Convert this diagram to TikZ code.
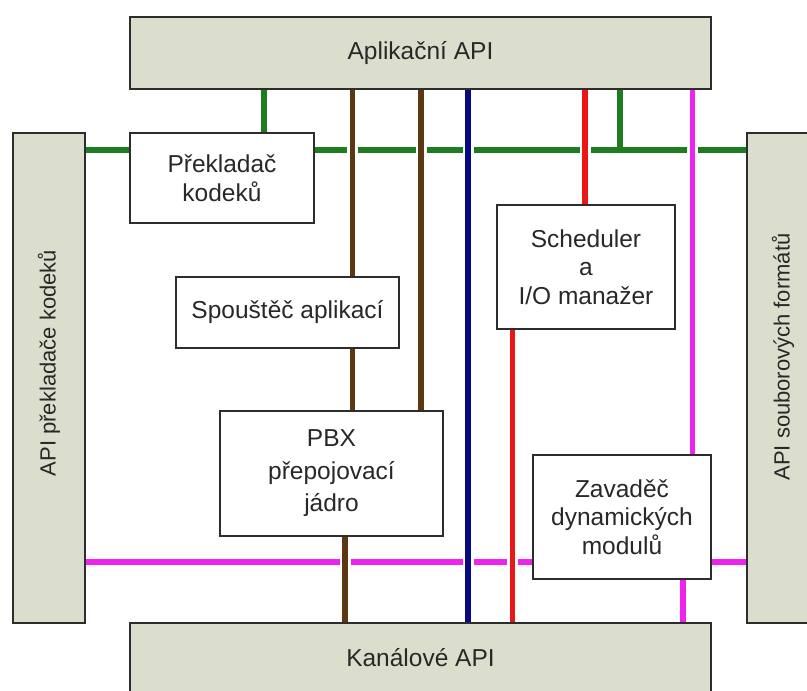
\documentclass[tikz,border=0pt]{standalone}
\usepackage{fontspec}
\setmainfont{Liberation Sans}
\definecolor{apifill}{RGB}{220,222,205}
\definecolor{bordercol}{RGB}{45,45,45}
\definecolor{textcol}{RGB}{40,40,40}
\definecolor{gcol}{RGB}{30,125,30}
\definecolor{bcol}{RGB}{92,56,18}
\definecolor{ncol}{RGB}{8,8,128}
\definecolor{rcol}{RGB}{235,22,22}
\definecolor{mcol}{RGB}{238,36,238}
\newcommand\fs{\fontsize{24.5}{28.5}\selectfont}
\newcommand\fsr{\fontsize{22}{26}\selectfont}
\tikzset{
  apibox/.style={draw=bordercol, line width=1.6pt, fill=apifill, inner sep=0pt, font=\fs, text=textcol},
  modbox/.style={draw=bordercol, line width=1.6pt, fill=white, inner sep=0pt, align=center, font=\fs, text=textcol},
  boxtext/.style={font=\fs, text=textcol, inner sep=0pt},
  rotlabel/.style={rotate=90, font=\fsr, text=textcol, inner sep=0pt},
  wire/.style={line width=5.5pt},
  hop/.style={preaction={draw=white, line width=11pt}},
}
\begin{document}
\begin{tikzpicture}[x=1pt,y=-1pt]
\useasboundingbox (0,0) rectangle (807,691);
% level and column coordinates
\coordinate (gy) at (0,150);
\coordinate (my) at (0,562);
\coordinate (xg1) at (264,0);
\coordinate (xg2) at (620,0);
\coordinate (xb1) at (352.5,0);
\coordinate (xb2) at (421,0);
\coordinate (xb3) at (345,0);
\coordinate (xn) at (468,0);
\coordinate (xr1) at (585,0);
\coordinate (xr2) at (512.5,0);
\coordinate (xm1) at (692.5,0);
\coordinate (xm2) at (683,0);

% node placement (drawn later on top of wires)
\path
  node[apibox, minimum width=581pt, minimum height=72pt] (app) at (420.5,53) {}
  node[apibox, minimum width=581pt, minimum height=100pt] (kan) at (420.5,673) {}
  node[apibox, minimum width=72pt, minimum height=490pt] (lapi) at (49,378) {}
  node[apibox, minimum width=72pt, minimum height=490pt] (rapi) at (783,378) {}
  node[modbox, minimum width=184pt, minimum height=90pt] (prekl) at (222,178) {}
  node[modbox, minimum width=223pt, minimum height=71pt] (spoust) at (287.5,312.5) {}
  node[modbox, minimum width=223pt, minimum height=125pt] (pbx) at (331.5,473.5) {}
  node[modbox, minimum width=178pt, minimum height=124pt] (sched) at (586,267) {}
  node[modbox, minimum width=178pt, minimum height=124pt] (zav) at (622,517) {};

% horizontal buses
\draw[wire, gcol] (lapi.east |- gy) -- (rapi.west |- gy);
\draw[wire, mcol] (lapi.east |- my) -- (rapi.west |- my);

% vertical connectors
\draw[wire, gcol] (xg1 |- app.south) -- (xg1 |- prekl.north);
\draw[wire, gcol] (xg2 |- app.south) -- (xg2 |- gy);
\draw[wire, bcol, hop] (xb1 |- app.south) -- (xb1 |- spoust.north);
\draw[wire, bcol] (xb1 |- spoust.south) -- (xb1 |- pbx.north);
\draw[wire, bcol, hop] (xb2 |- app.south) -- (xb2 |- pbx.north);
\draw[wire, bcol, hop] (xb3 |- pbx.south) -- (xb3 |- kan.north);
\draw[wire, ncol, hop] (xn |- app.south) -- (xn |- kan.north);
\draw[wire, rcol, hop] (xr1 |- app.south) -- (xr1 |- sched.north);
\draw[wire, rcol, hop] (xr2 |- sched.south) -- (xr2 |- kan.north);
\draw[wire, mcol, hop] (xm1 |- app.south) -- (xm1 |- zav.north);
\draw[wire, mcol] (xm2 |- zav.south) -- (xm2 |- kan.north);

% boxes on top
\node[apibox, minimum width=581pt, minimum height=72pt] at (app) {Aplikační API};
\node[apibox, minimum width=581pt, minimum height=100pt] at (kan) {};
\node[boxtext] (kanlab) at (420.5,658) {Kanálové API};
\node[apibox, minimum width=72pt, minimum height=490pt] at (lapi) {};
\node[apibox, minimum width=72pt, minimum height=490pt] at (rapi) {};
\node[rotlabel] (llab) at (49,363) {API překladače kodeků};
\node[rotlabel] (rlab) at (783,357) {API souborových formátů};
\node[modbox, minimum width=184pt, minimum height=90pt] at (prekl) {Překladač\\kodeků};
\node[modbox, minimum width=223pt, minimum height=71pt] at (spoust) {Spouštěč aplikací};
\node[modbox, minimum width=223pt, minimum height=125pt] at (pbx) {PBX\\[4pt]přepojovací\\[4pt]jádro};
\node[modbox, minimum width=178pt, minimum height=124pt] at (sched) {Scheduler\\a\\I/O manažer};
\node[modbox, minimum width=178pt, minimum height=124pt] at (zav) {Zavaděč\\dynamických\\modulů};
\end{tikzpicture}
\end{document}
